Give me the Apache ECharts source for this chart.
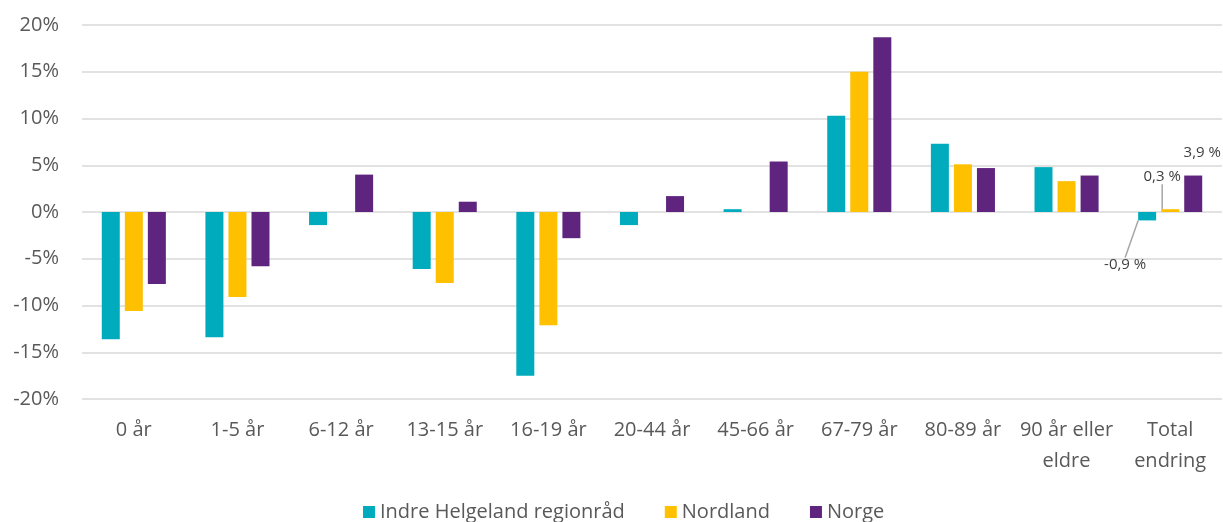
<!DOCTYPE html>
<html>
<head>
<meta charset="utf-8">
<script src="https://cdn.jsdelivr.net/npm/echarts@6/dist/echarts.min.js"></script>
<style>
  html, body { margin: 0; padding: 0; background: #fff; }
  #main { width: 1223px; height: 522px; }
</style>
</head>
<body>
<div id="main"></div>
<script>
// kategorier og verdier (prosent endring)
var categories = ['0 år', '1-5 år', '6-12 år', '13-15 år', '16-19 år', '20-44 år', '45-66 år',
  '67-79 år', '80-89 år', '90 år eller\neldre', 'Total\nendring'];
var seriesNames = ['Indre Helgeland regionråd', 'Nordland', 'Norge'];
var indreHelgeland = [-13.6, -13.4, -1.4, -6.1, -17.5, -1.4, 0.3, 10.3, 7.3, 4.8, -0.9];
var nordland = [-10.6, -9.1, 0, -7.6, -12.1, 0, 0, 15.0, 5.1, 3.3, 0.3];
var norge = [-7.7, -5.8, 4.0, 1.1, -2.8, 1.7, 5.4, 18.7, 4.7, 3.9, 3.9];
var yTicks = { min: -20, max: 20, step: 5 };

var colors = ['#00ABBD', '#FFC000', '#5F257E'];
var font = '"Open Sans", "Noto Sans", sans-serif';

// bare siste kategori (Total endring) har dataetikett
function makeData(values, showLine) {
  return values.map(function (v, i) {
    if (i !== values.length - 1) return v;
    return {
      value: v,
      label: {
        show: true,
        formatter: function (p) { return String(p.value).replace('.', ',') + ' %'; }
      },
      labelLine: { show: showLine, lineStyle: { color: '#a6a6a6', width: 1.5 } }
    };
  });
}

// forskyvning av etikettene
var labelShift = [
  { dx: -22, dy: 32 },
  { dx: -8, dy: -20 },
  { dx: 9, dy: -10 }
];

var chart = echarts.init(document.getElementById('main'));

var series = [indreHelgeland, nordland, norge].map(function (vals, k) {
  return {
    name: seriesNames[k],
    type: 'bar',
    barWidth: 18,
    barGap: '28%',
    itemStyle: { color: colors[k] },
    label: {
      show: false,
      position: vals[vals.length - 1] < 0 ? 'bottom' : 'top',
      color: '#404040',
      fontFamily: font,
      fontSize: 15
    },
    labelLayout: function (p) {
      if (p.dataIndex !== vals.length - 1) return {};
      return labelShift[k];
    },
    data: makeData(vals, k < 2)
  };
});

var option = {
  animation: false,
  color: colors,
  grid: { left: 82, right: 1, top: 25, bottom: 123 },
  legend: {
    left: 358,
    top: 497,
    itemWidth: 12,
    itemHeight: 12,
    itemGap: 40,
    icon: 'rect',
    textStyle: { color: '#595959', fontFamily: font, fontSize: 20 },
    data: seriesNames
  },
  xAxis: {
    type: 'category',
    data: categories,
    axisLine: { show: false },
    axisTick: { show: false },
    axisLabel: {
      interval: 0,
      margin: 16,
      color: '#595959',
      fontFamily: font,
      fontSize: 20,
      lineHeight: 31
    }
  },
  yAxis: {
    type: 'value',
    min: yTicks.min,
    max: yTicks.max,
    interval: yTicks.step,
    axisLine: { show: false },
    axisTick: { show: false },
    axisLabel: {
      margin: 23,
      color: '#595959',
      fontFamily: font,
      fontSize: 20,
      formatter: '{value}%'
    },
    splitLine: { lineStyle: { color: '#d9d9d9', width: 1.5 } }
  },
  series: series
};

chart.setOption(option);
</script>
</body>
</html>
